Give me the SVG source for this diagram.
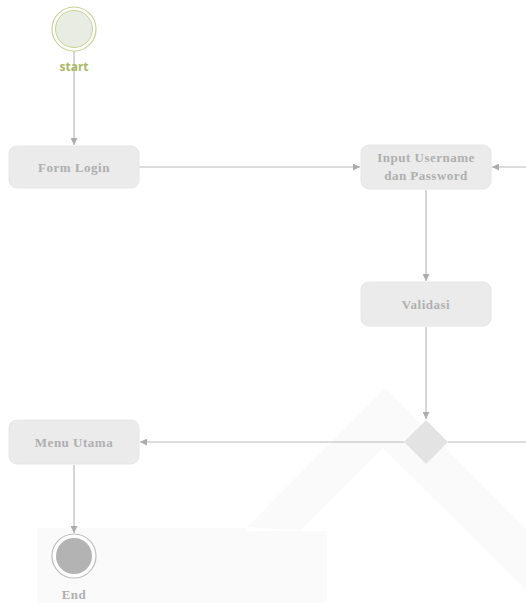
<svg xmlns="http://www.w3.org/2000/svg" width="526" height="603" viewBox="0 0 526 603">
<style>
.box{fill:#ebebeb;stroke:#e6e6e6;stroke-width:1}
.lbl{font-family:"Liberation Serif","Times New Roman",serif;font-weight:bold;font-size:13px;fill:#afafaf;text-anchor:middle;letter-spacing:0.5px}
.edge{stroke:#b9b9b9;stroke-width:1.2;fill:none;marker-end:url(#arr)}
.wm{fill:#fafafa}
</style>
<defs>
<marker id="arr" viewBox="0 0 10 10" refX="10" refY="5" markerWidth="7" markerHeight="7" markerUnits="userSpaceOnUse" orient="auto">
<path d="M0,0 L10,5 L0,10 z" fill="#acacac"/>
</marker>
</defs>
<rect width="526" height="603" fill="#ffffff"/>
<g id="watermark">
<polygon class="wm" points="247,527 385,388 526,529 526,590 383,448 300,531"/>
<rect class="wm" x="37" y="528" width="210" height="75"/>
<rect class="wm" x="247" y="531" width="80" height="72"/>
</g>
<g id="connectors">
<line class="edge" x1="74" y1="51" x2="74" y2="145"/>
<line class="edge" x1="139" y1="167" x2="360" y2="167"/>
<line class="edge" x1="526" y1="167" x2="492" y2="167"/>
<line class="edge" x1="426" y1="190" x2="426" y2="281"/>
<line class="edge" x1="426" y1="327" x2="426" y2="419"/>
<line class="edge" x1="404" y1="442" x2="140" y2="442"/>
<line x1="448" y1="442" x2="526" y2="442" stroke="#b9b9b9" stroke-width="1.2"/>
<line class="edge" x1="74" y1="465" x2="74" y2="533"/>
</g>
<g id="start">
<circle cx="74" cy="29" r="22" fill="#ffffff" stroke="#c8d296" stroke-width="1.2"/>
<circle cx="74" cy="29" r="18.5" fill="#e9ece3" stroke="#c8d296" stroke-width="1"/>
<text x="74" y="71" font-family="'Open Sans','DejaVu Sans',sans-serif" font-weight="bold" font-size="12" fill="#a9b866" text-anchor="middle">start</text>
</g>
<g id="form-login">
<rect class="box" x="9" y="146" width="130" height="42" rx="8"/>
<text class="lbl" x="74" y="172">Form Login</text>
</g>
<g id="input-username">
<rect class="box" x="361" y="145" width="130" height="44" rx="8"/>
<text class="lbl" x="426" y="162">Input Username</text>
<text class="lbl" x="426" y="180">dan Password</text>
</g>
<g id="validasi">
<rect class="box" x="361" y="282" width="130" height="44" rx="8"/>
<text class="lbl" x="426" y="309">Validasi</text>
</g>
<g id="decision">
<polygon points="426,420 448,442 426,464 404,442" fill="#e3e3e3"/>
</g>
<g id="menu-utama">
<rect class="box" x="9" y="420" width="130" height="44" rx="8"/>
<text class="lbl" x="74" y="447">Menu Utama</text>
</g>
<g id="end">
<circle cx="74" cy="556" r="22" fill="#ffffff" stroke="#bdbdbd" stroke-width="1.2"/>
<circle cx="74" cy="556" r="18" fill="#b3b3b3"/>
<text class="lbl" x="74" y="599" font-size="14">End</text>
</g>
</svg>
